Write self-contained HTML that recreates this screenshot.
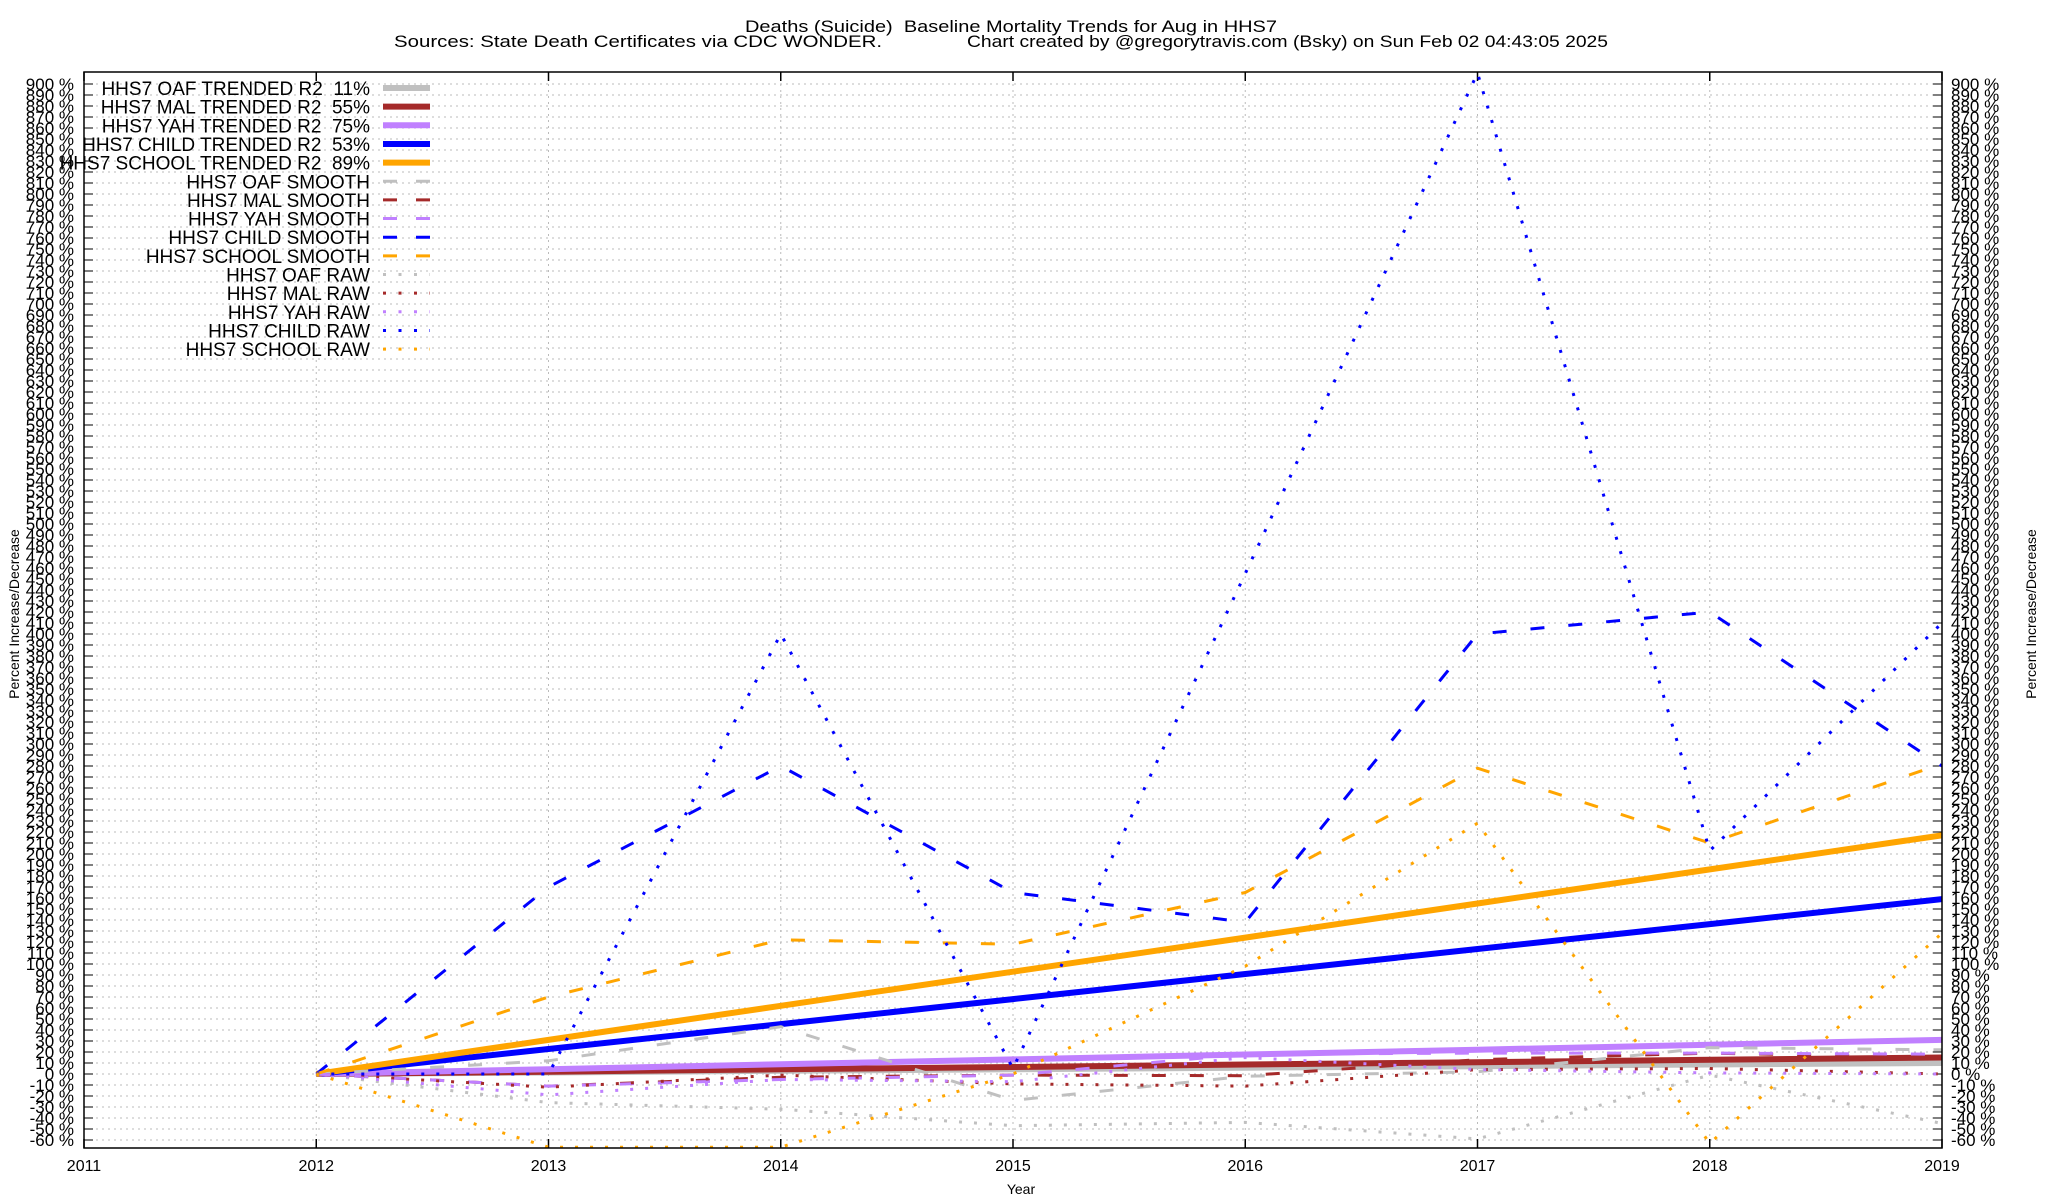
<!DOCTYPE html>
<html><head><meta charset="utf-8"><style>
html,body{margin:0;padding:0;background:#fff;}
svg{display:block;font-family:"Liberation Sans",Arial,sans-serif;}
text{white-space:pre;}
</style></head><body>
<svg id="chart" width="2048" height="1200" viewBox="0 0 2048 1200" xmlns="http://www.w3.org/2000/svg" xml:space="preserve">
<defs><clipPath id="plotclip"><rect x="84" y="72" width="1858" height="1076"/></clipPath></defs>
<text x="745" y="32" font-size="17" textLength="532" lengthAdjust="spacingAndGlyphs">Deaths (Suicide)  Baseline Mortality Trends for Aug in HHS7</text>
<text x="394" y="47" font-size="17" textLength="488" lengthAdjust="spacingAndGlyphs">Sources: State Death Certificates via CDC WONDER.</text>
<text x="967" y="47" font-size="17" textLength="641" lengthAdjust="spacingAndGlyphs">Chart created by @gregorytravis.com (Bsky) on Sun Feb 02 04:43:05 2025</text>
<g id="grid"></g>
<g id="ticks"></g>
<g id="series" clip-path="url(#plotclip)"></g>
<rect x="84" y="72" width="1858" height="1076" fill="none" stroke="#000" stroke-width="1.5"/>
<g id="legend"></g>
<text transform="translate(19,614) rotate(-90)" text-anchor="middle" font-size="14">Percent Increase/Decrease</text>
<text transform="translate(2036,614) rotate(-90)" text-anchor="middle" font-size="14">Percent Increase/Decrease</text>
<text x="1021" y="1194" text-anchor="middle" font-size="14">Year</text>
</svg>
<script>
const years = [2012,2013,2014,2015,2016,2017,2018,2019];
const xTicks = [2011,2012,2013,2014,2015,2016,2017,2018,2019];
const oafTrend = [0,1.4,2.9,4.3,5.7,7.1,8.6,10];
const malTrend = [0,2.1,4.3,6.4,8.6,10.7,12.9,15];
const yahTrend = [0,4.4,8.9,13.3,17.7,22.1,26.6,31];
const childTrend = [0,22.7,45.4,68.1,90.9,113.6,136.3,159];
const schoolTrend = [0,31,62,93,124,155,186,217];
const oafSmooth = [0,12,43,-24,-2,2,24,22];
const malSmooth = [0,-11,-3,-1,-1.5,13,19,15];
const yahSmooth = [0,-11,-5,-1,18,19,19,18];
const childSmooth = [0,170,280,165,138,400,420,280];
const schoolSmooth = [0,70,122,118,165,278,210,282];
const oafRaw = [0,-26,-32,-47,-44,-59,-1,-45];
const malRaw = [0,-12,-1,-9,-11,4,5,0];
const yahRaw = [0,-19,-5,-7,15,4,1,0];
const childRaw = [0,0,400,5,455,910,203,410];
const schoolRaw = [0,-66.5,-66.5,0,98,228,-63,128];
const legendLabels = ["HHS7 OAF TRENDED R2  11%","HHS7 MAL TRENDED R2  55%","HHS7 YAH TRENDED R2  75%","HHS7 CHILD TRENDED R2  53%","HHS7 SCHOOL TRENDED R2  89%","HHS7 OAF SMOOTH","HHS7 MAL SMOOTH","HHS7 YAH SMOOTH","HHS7 CHILD SMOOTH","HHS7 SCHOOL SMOOTH","HHS7 OAF RAW","HHS7 MAL RAW","HHS7 YAH RAW","HHS7 CHILD RAW","HHS7 SCHOOL RAW"];

const NS="http://www.w3.org/2000/svg";
function X(yr){return 84+(yr-2011)*232.25;}
function Y(v){return 1074-v*1.1;}
function mk(tag,attrs,parent){const e=document.createElementNS(NS,tag);for(const k in attrs)e.setAttribute(k,attrs[k]);parent.appendChild(e);return e;}
const grid=document.getElementById('grid'),ticks=document.getElementById('ticks'),series=document.getElementById('series'),legend=document.getElementById('legend');

for(let v=-60;v<=900;v+=10){
  const y=Y(v);
  const g=mk('line',{x1:84,x2:1942,y1:y,y2:y,stroke:'#bbb','stroke-width':1,'stroke-dasharray':'2 4'},grid);
  
  
  const t1=mk('line',{x1:84,x2:93,y1:y,y2:y,stroke:'#000','stroke-width':1},ticks);
  
  
  const t2=mk('line',{x1:1933,x2:1942,y1:y,y2:y,stroke:'#000','stroke-width':1},ticks);
  
  
  const l=mk('text',{x:74,y:y+6,'text-anchor':'end','font-size':17},ticks);
  l.textContent=v+' %';
  
  
  const r=mk('text',{x:1951,y:y+6,'font-size':17},ticks);
  r.textContent=v+' %';
  
  
}
xTicks.forEach(yr=>{
  const x=X(yr);
  const g=mk('line',{x1:x,x2:x,y1:72,y2:1148,stroke:'#bbb','stroke-width':1,'stroke-dasharray':'2 4'},grid);
  
  
  const tb=mk('line',{x1:x,x2:x,y1:1139,y2:1148,stroke:'#000','stroke-width':1.5},ticks);
  
  
  const tt=mk('line',{x1:x,x2:x,y1:72,y2:81,stroke:'#000','stroke-width':1.5},ticks);
  
  
  const l=mk('text',{x:x,y:1171,'text-anchor':'middle','font-size':16},ticks);
  l.textContent=yr;
  
  
});

const colors={oaf:'#c0c0c0',mal:'#a52a2a',yah:'#c080ff',child:'#0000ff',school:'#ffa500'};
const styles={trend:{w:6,dash:'none'},smooth:{w:3,dash:'14 24'},raw:{w:3,dash:'3 12'}};
const defs=[
 ['oaf','trend',oafTrend],['mal','trend',malTrend],['yah','trend',yahTrend],['child','trend',childTrend],['school','trend',schoolTrend],
 ['oaf','smooth',oafSmooth],['mal','smooth',malSmooth],['yah','smooth',yahSmooth],['child','smooth',childSmooth],['school','smooth',schoolSmooth],
 ['oaf','raw',oafRaw],['mal','raw',malRaw],['yah','raw',yahRaw],['child','raw',childRaw],['school','raw',schoolRaw]];
defs.forEach((d,i)=>{
  const [k,s,vals]=d;
  const pts=vals.map((v,j)=>X(years[j]).toFixed(1)+','+Y(v).toFixed(1)).join(' ');
  const p=mk('polyline',{points:pts,fill:'none',stroke:colors[k],'stroke-width':styles[s].w,'stroke-dasharray':styles[s].dash,'stroke-linejoin':'round'},series);
  
  
  const ly=88+i*18.65;
  const t=mk('text',{x:370,y:ly+7,'text-anchor':'end','font-size':19},legend);
  t.textContent=legendLabels[i];
  
  
  const sm=mk('line',{x1:383,x2:430,y1:ly,y2:ly,stroke:colors[k],'stroke-width':styles[s].w,'stroke-dasharray':s==='smooth'?'14 19':(s==='raw'?'3 12.5':'none')},legend);
  
  
});
</script>
</body></html>
